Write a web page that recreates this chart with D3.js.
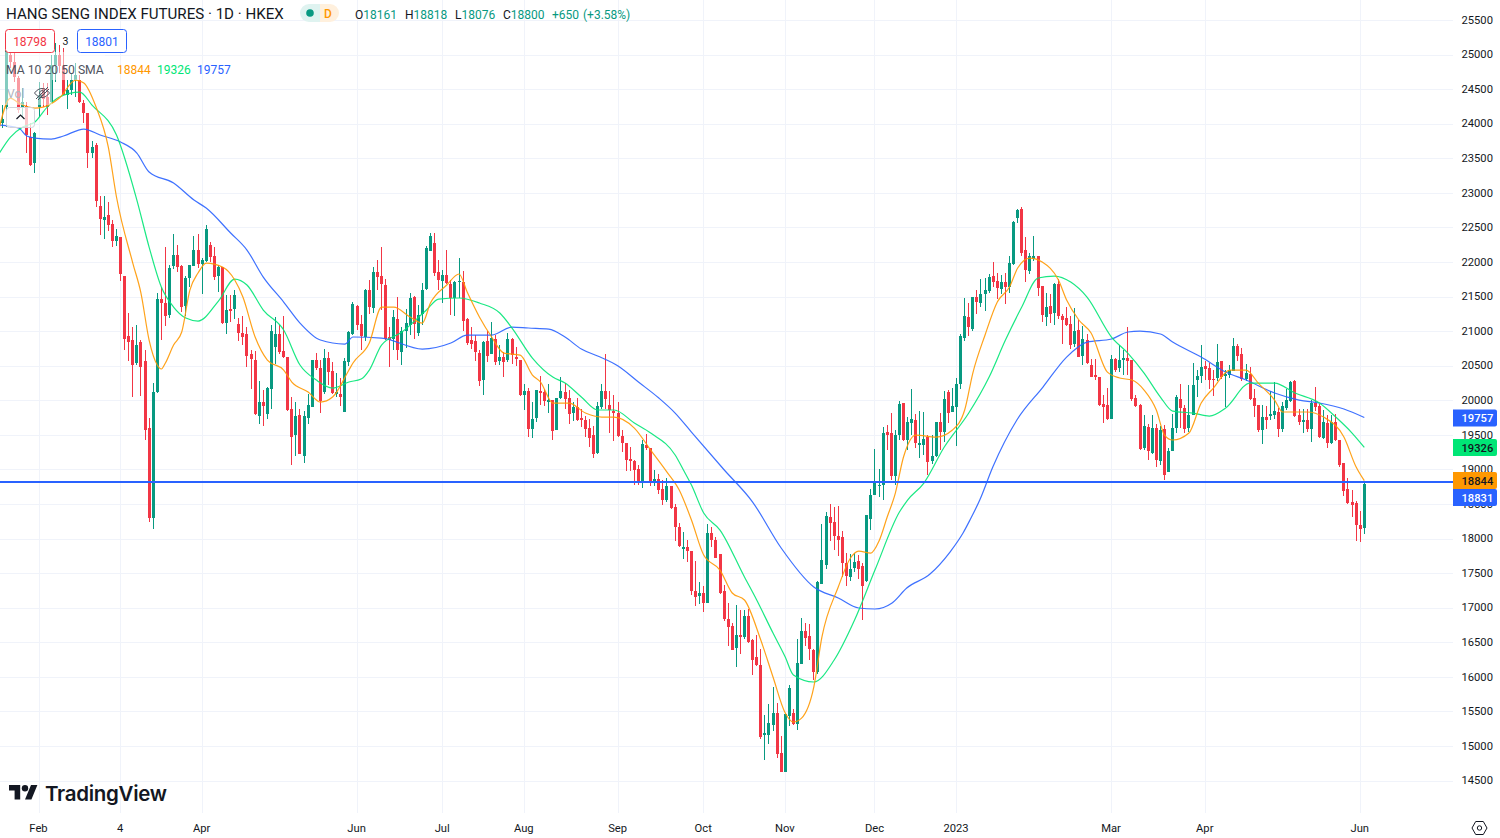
<!DOCTYPE html>
<html>
<head>
<meta charset="utf-8">
<script src="https://cdn.jsdelivr.net/npm/d3@7"></script>
<style>
  html, body { margin: 0; padding: 0; background: #fff; }
  svg { display: block; font-family: Roboto, sans-serif; }
</style>
</head>
<body>
<svg id="chart" width="1500" height="838"></svg>
<script>
// DATA, one row = 10 bars
const opens = [
  24017,24248,25000,24899,24668,24248,24263,23814,23438,24248,
  24523,24393,24321,24856,25000,24841,24422,24494,24639,24639,
  24306,24162,23583,23699,22816,22614,22686,22556,22310,22368,
  21804,20936,20878,20546,20849,20575,19605,18304,20126,21471,
  21413,21240,21949,22108,21949,21370,21775,21949,22180,21978,
  22021,22252,22093,21804,21934,21124,21327,21327,21110,20980,
  20965,20676,20589,19779,19981,19808,20170,20777,20965,20719,
  20632,19880,19504,19793,19200,19750,19909,20589,20473,20126,
  20618,20430,20097,20097,19837,20560,20965,21370,21110,20922,
  21601,21341,21862,21804,21674,20922,20893,21182,20705,21008,
  21095,21500,20980,21254,21616,22166,22281,21862,21732,21818,
  21688,21486,21717,21717,21182,20878,20864,20690,20300,20864,
  20676,20893,20575,20632,20589,20893,20632,20589,20083,20141,
  19591,19750,20141,20126,19981,20010,19576,20039,20126,20039,
  19822,19909,19750,19721,19605,19504,19244,19909,20141,19938,
  19851,19822,19490,19388,19157,19128,19012,18839,19359,19316,
  18810,18868,18723,18564,18767,18463,18173,17855,17884,17826,
  17248,17175,17219,17074,18087,17985,17783,17248,16843,16741,
  16423,16611,16582,16886,16539,16293,16178,15165,15165,15310,
  15483,14904,14630,15440,15483,15324,16192,16669,16597,16394,
  16076,17349,17624,18318,18246,18043,18029,17653,17450,17580,
  17682,17609,17392,18289,18636,18767,18781,19548,19533,18911,
  19504,19967,19432,19678,19721,19359,19359,19475,19128,19200,
  19692,19548,20126,19837,19909,20242,20907,21211,21037,21500,
  21413,21544,21587,21804,21732,21616,21717,21645,21977,22643,
  22773,22180,21876,22050,22093,21659,21211,21370,21269,21688,
  21225,21196,21110,20820,21023,20647,20878,20517,20372,20343,
  19952,19938,19735,20603,20473,20589,20618,20589,20039,19938,
  19316,19620,19244,19605,19128,19591,18969,19273,19605,20025,
  19895,19605,19793,20300,20358,20502,20473,20314,20329,20575,
  20358,20372,20430,20792,20676,20314,20387,20039,19938,19576,
  19765,19779,19793,19837,19591,19895,19996,20285,19793,19692,
  19721,19591,19967,19924,19461,19678,19388,19692,19432,19099,
  18723,18535,18521,18202,18161
];
const highs = [
  24277,25102,25145,25044,24697,24523,24321,24017,23887,24610,
  24596,24596,25000,25174,25145,25102,24639,24740,24885,24711,
  24350,24162,23757,23728,22961,22961,22874,22614,22484,22368,
  21804,21269,21066,21095,20878,20734,19750,20256,21558,21645,
  22223,21963,22411,22252,21963,21804,21963,22382,22411,22064,
  22542,22296,22223,21963,21934,21529,21529,21601,21196,21225,
  21066,20734,20719,20285,20155,20198,21095,21211,21095,21225,
  20632,20054,19981,19880,19851,20097,20589,20690,20589,20748,
  20705,20560,20401,20329,20618,21008,21428,21384,21240,21616,
  21746,21934,22035,22223,21761,21066,21312,21500,21066,21327,
  21558,21515,21384,21703,22238,22426,22426,22035,21891,22180,
  21746,21732,22064,21876,21196,21066,20951,20734,20864,21008,
  21139,20951,20806,20705,20980,20907,20777,20589,20242,20184,
  19981,20155,20358,20170,20242,20010,20039,20343,20256,20155,
  19981,20039,19880,19779,19736,19634,19981,20242,20676,20141,
  20083,19981,19576,19388,19331,19143,19070,19432,19519,19316,
  18998,18940,18853,18882,18767,18506,18231,18101,17985,17826,
  17682,17378,17320,18217,18173,18029,17783,17334,17074,16785,
  17045,16973,16973,16987,16553,16611,16409,15454,15613,15859,
  15628,15151,15469,15889,15541,16553,16857,16785,16770,16409,
  17392,18217,18390,18506,18463,18477,18116,17797,17783,17797,
  17768,17653,18347,18723,19302,19012,19620,19649,19822,19576,
  19996,19967,19765,20170,19808,19851,19837,19504,19504,19692,
  19822,20141,20155,20184,20329,20965,21486,21413,21500,21601,
  21761,21775,21833,22006,21847,21818,21847,22093,22600,22773,
  22802,22368,22137,22382,22093,21659,21558,21544,21703,21761,
  21254,21356,21225,21341,21168,21081,20965,20603,20603,20343,
  20083,20184,20661,20618,20806,20734,21066,20589,20083,19952,
  19793,19663,19793,19663,19634,19649,19316,19808,20083,20242,
  19938,20227,20545,20444,20806,20575,20546,20444,20820,20575,
  20444,20517,20907,20820,20763,20531,20488,20170,19938,19938,
  19924,20141,20271,19895,19981,20170,20285,20300,19880,19880,
  19880,20010,20198,19952,19866,19793,19793,19808,19432,19099,
  18882,18709,18550,18405,18818
];
const lows = [
  23945,23959,24812,24610,24162,24104,23583,23395,23294,24104,
  24248,24133,24306,24610,24740,24422,24219,24422,24393,24306,
  24017,23366,23511,22802,22397,22339,22455,22223,22238,21732,
  20734,20575,20054,20517,20068,19432,18246,18145,20112,20878,
  21081,21196,21905,21862,21283,21225,21645,21949,21920,21544,
  22006,22006,21746,21573,21110,20965,21139,21182,20864,20806,
  20488,20170,19793,19663,19634,19735,19880,20531,20676,20618,
  19851,19070,19200,19229,19099,19663,19909,20444,19822,20097,
  20227,20097,20054,19924,19837,20502,20951,21023,20734,20864,
  21254,21269,21601,21312,20878,20488,20734,20589,20517,20763,
  20951,20893,20936,21095,21601,22166,21804,21601,21413,21688,
  21240,21225,21486,21008,20806,20748,20575,20213,20083,20560,
  20676,20517,20517,20343,20560,20531,20502,20068,19866,19475,
  19461,19692,19938,19924,19822,19432,19576,20025,19880,19663,
  19707,19707,19620,19475,19331,19172,19229,19880,19880,19533,
  19417,19475,19258,18983,18983,18781,18781,18737,19287,18767,
  18767,18651,18492,18535,18434,17971,17884,17710,17667,17190,
  17031,17060,16944,17074,17884,17725,17205,16814,16452,16394,
  16149,16337,16553,16496,16033,16163,15107,14803,15035,15223,
  14832,14630,14630,15295,15310,15237,16192,16452,16250,15960,
  16047,17349,17566,17971,17841,17754,17450,17320,17392,17523,
  17421,16828,17378,18130,18636,18607,18564,19287,18853,18781,
  19432,19417,19287,19504,19316,19172,19215,18926,19085,19186,
  19287,19403,19678,19837,19345,20170,20864,20936,21008,21254,
  21356,21298,21558,21645,21471,21544,21399,21558,21963,22571,
  22093,21717,21833,22021,21515,21139,21081,21124,21095,21182,
  20820,21081,20748,20777,20632,20517,20531,20343,20300,19924,
  19678,19721,19735,20415,20415,20372,20372,19996,19909,19287,
  19287,19143,19229,19041,19070,18853,18969,19273,19533,19605,
  19533,19547,19793,20054,20256,20300,20170,20068,20285,20314,
  19909,20329,20430,20575,20285,20285,20010,19765,19548,19374,
  19591,19721,19735,19475,19548,19866,19981,19764,19649,19533,
  19548,19403,19851,19461,19446,19316,19374,19417,19041,18622,
  18506,18318,17971,17956,18076
];
const closes = [
  24075,25073,24899,24682,24205,24321,23843,23409,23872,24422,
  24364,24248,24856,25000,24841,24422,24494,24639,24711,24321,
  24162,23583,23670,22893,22628,22657,22542,22310,22382,21833,
  20893,20849,20517,20806,20488,19576,18304,20126,21471,21413,
  21225,21920,22108,21934,21355,21775,21963,22180,21978,22035,
  22484,22079,21790,21934,21124,21312,21298,21529,20980,20922,
  20647,20604,19808,19981,19924,20184,21008,20965,20705,20632,
  19866,19475,19779,19229,19779,19938,20589,20473,19996,20618,
  20415,20112,20126,20054,20575,20994,21399,21095,20936,21601,
  21355,21862,21790,21688,20893,20878,21211,20734,21008,21124,
  21486,21110,21240,21601,22209,22382,21847,21746,21818,21703,
  21486,21717,21732,21153,20835,20820,20705,20285,20849,20647,
  20907,20560,20632,20560,20893,20661,20604,20083,20141,19591,
  19736,20155,20112,19996,20010,19562,20039,20141,20025,19808,
  19909,19721,19721,19591,19461,19229,19924,20141,20025,19866,
  19822,19490,19388,19143,19128,18998,18839,19374,19316,18810,
  18868,18709,18564,18767,18448,18173,17899,17884,17826,17248,
  17161,17219,17074,18087,17985,17725,17219,16843,16727,16394,
  16611,16582,16886,16510,16250,16178,15136,15194,15339,15483,
  14890,14630,15469,15845,15324,16206,16669,16568,16409,16076,
  17378,17696,18333,18231,18043,17985,17653,17465,17566,17667,
  17566,17320,18347,18636,18810,18781,19533,19504,18911,19504,
  19952,19432,19692,19735,19388,19388,19446,19114,19200,19692,
  19548,20025,19822,19924,20242,20936,21225,21066,21500,21428,
  21544,21601,21789,21717,21630,21717,21645,21992,22585,22759,
  22137,21891,22093,22093,21630,21240,21356,21254,21688,21225,
  21168,21095,20806,21008,20632,20893,20546,20343,20343,19938,
  19909,19735,20604,20444,20589,20618,20575,20025,19924,19302,
  19634,19273,19605,19143,19576,18926,19273,19605,20054,19895,
  19591,19793,20227,20358,20488,20459,20300,20300,20560,20343,
  20387,20444,20792,20647,20314,20401,20025,19924,19576,19765,
  19721,19808,19851,19591,19924,20010,20271,19779,19692,19721,
  19591,19967,19909,19475,19692,19388,19692,19432,19070,18694,
  18521,18492,18202,18145,18800
];

// moving averages, read at the bends of each line: bar number + price
const ma10Bars = [-1,2,4,8,10,14,18,20,23,26,28,32,34,36,38,39,40,42,44,46,48,50,54,57,59,62,65,69,71,75,78,81,85,86,90,93,96,100,103,105,109,112,114,117,120,123,127,130,132,135,139,143,147,150,155,159,163,166,169,172,176,179,182,186,189,192,194,196,199,201,205,208,210,213,215,217,219,221,224,229,233,236,238,241,244,247,249,252,255,259,261,264,267,271,274,277,280,283,285,287,291,294,297,301,305,308,312,314,320,324,329,332,334];
const ma10Values = [23887,24378,24306,24234,24248,24378,24639,24596,24248,23670,22947,21992,21558,20878,20517,20459,20546,20806,20994,21601,21847,21992,21934,21746,21500,20922,20589,20444,20271,20126,19981,20054,20444,20546,20835,21355,21355,21211,21124,21413,21674,21833,21572,21211,20922,20690,20661,20372,20271,19967,19967,19822,19764,19764,19605,19287,18969,18709,18275,17768,17551,17219,17118,16539,16004,15483,15353,15410,15859,16583,17306,17725,17826,17797,17971,18318,18665,19186,19504,19475,19577,19866,20401,20951,21428,21645,21920,22064,22006,21746,21457,21168,20980,20415,20329,20300,20155,19866,19504,19432,19533,19967,20184,20444,20444,20256,20010,19837,19837,19764,19475,19041,18844];
const ma20Bars = [-1,2,5,8,11,14,19,22,28,33,36,39,42,45,48,53,57,60,64,69,73,77,81,85,88,90,93,98,104,107,112,117,122,125,130,135,138,142,146,150,155,159,165,167,169,172,176,182,185,189,192,194,199,204,209,214,220,222,226,231,237,242,246,250,254,258,262,266,272,276,280,284,287,292,296,300,306,312,317,323,327,331,334];
const ma20Values = [23554,23814,23959,24031,24248,24393,24465,24277,23843,22903,22223,21645,21355,21196,21153,21442,21760,21674,21312,21023,20517,20300,20184,20271,20314,20444,20806,20994,21312,21471,21486,21413,21269,21052,20618,20343,20256,20054,19866,19866,19678,19533,19215,19002,18781,18376,18130,17450,17118,16640,16293,16033,15932,16250,16828,17551,18390,18564,18810,19331,19822,20343,20878,21355,21775,21804,21717,21500,20922,20690,20401,20054,19851,19822,19779,19895,20256,20256,20112,19967,19764,19533,19326];
const ma50Bars = [-1,4,6,8,12,15,20,24,29,33,36,42,47,50,56,60,64,69,73,78,84,86,93,103,110,114,120,125,129,134,138,142,146,151,156,161,165,169,177,184,191,199,205,210,214,218.2,221.8,227.5,232.4,235.6,237.3,239.7,242.9,248.8,255.2,261,266,272,276,279,284,287,294,300,305,312,318,323,329,334];
const ma50Values = [23988,23945,23829,23800,23785,23829,23930,23843,23742,23583,23308,23149,22903,22787,22426,22180,21789,21428,21124,20878,20820,20922,20907,20748,20835,20950,20950,21066,21052,21037,20922,20748,20647,20502,20271,20039,19822,19547,19002,18535,17870,17306,17147,17002,16988,17074,17291,17494,17812,18087,18275,18564,19041,19721,20198,20632,20849,20893,20994,21008,20965,20849,20632,20415,20300,20112,20010,19967,19880,19757];

// axes
const priceTicks = d3.range(14500, 26000, 500);
const timeTickBars = [9,29,49,87,108,128,151,172,192,214,234,272,295,333];
const timeTickLabels = ["Feb","4","Apr","Jun","Jul","Aug","Sep","Oct","Nov","Dec","2023","Mar","Apr","Jun"];

// last value tags on the price axis
const lastLinePrice = 18831;
const tagLabels = ["19757","19326","18844","18831"];
const tagPrices = [19757,19326,18844,18831];

const C = {
  up: "#089981", down: "#F23645", grid: "#f0f3fa", text: "#131722",
  ma10: "#FF9800", ma20: "#00E676", ma50: "#2962FF", line: "#2962FF"
};
const tagFills = [C.ma50, C.ma20, C.ma10, C.line];
const tagInks = ["#fff", "#131722", "#131722", "#fff"];

const svg = d3.select("#chart");
const W = 1453;

const x = d3.scaleLinear().domain([0, 334]).range([2.3, 1364.3]);
const y = d3.scaleLinear().domain([14500, 25500]).range([781, 20.5]);

svg.append("defs").append("clipPath").attr("id", "pane")
  .append("rect").attr("width", W).attr("height", 813);

// GRID
const grid = svg.append("g").attr("shape-rendering", "crispEdges").attr("stroke", C.grid);
grid.selectAll(".h").data(priceTicks).join("line").attr("class", "h")
  .attr("x1", 0).attr("x2", W)
  .attr("y1", d => Math.floor(y(d)) + .5).attr("y2", d => Math.floor(y(d)) + .5);
grid.selectAll(".v").data(timeTickBars).join("line").attr("class", "v")
  .attr("x1", d => Math.floor(x(d)) + .5).attr("x2", d => Math.floor(x(d)) + .5)
  .attr("y1", 0).attr("y2", 813);

// CANDLES
const pane = svg.append("g").attr("clip-path", "url(#pane)");
const candle = pane.append("g").attr("shape-rendering", "crispEdges")
  .selectAll("g").data(d3.range(opens.length)).join("g")
  .attr("fill", i => closes[i] >= opens[i] ? C.up : C.down);
candle.append("rect")
  .attr("x", i => Math.floor(x(i))).attr("width", 1)
  .attr("y", i => y(highs[i])).attr("height", i => y(lows[i]) - y(highs[i]));
candle.append("rect")
  .attr("x", i => Math.floor(x(i)) - 1).attr("width", 3)
  .attr("y", i => y(Math.max(opens[i], closes[i])))
  .attr("height", i => Math.max(1, Math.abs(y(opens[i]) - y(closes[i]))));

// MA LINES
const maLine = d3.line().x(d => x(d[0])).y(d => y(d[1])).curve(d3.curveMonotoneX);
[[ma50Bars, ma50Values, C.ma50], [ma20Bars, ma20Values, C.ma20], [ma10Bars, ma10Values, C.ma10]].forEach(s => {
  pane.append("path").datum(d3.zip(s[0], s[1]))
    .attr("d", maLine).attr("fill", "none").attr("stroke", s[2])
    .attr("stroke-width", 1.2).attr("opacity", .9);
});

// horizontal price line
svg.append("rect").attr("x", 0).attr("width", W).attr("height", 2)
  .attr("y", Math.round(y(lastLinePrice)) - 1).attr("fill", C.line);

// AXES
const yAxis = d3.axisRight(y).tickValues(priceTicks).tickFormat(d3.format("d")).tickSize(0).tickPadding(8.5);
const yG = svg.append("g").attr("transform", `translate(${W},-0.8)`).call(yAxis);
yG.select(".domain").remove();
yG.selectAll("text").attr("font-family", "Roboto").attr("font-size", 11.2).attr("fill", C.text);

const xAxis = d3.axisBottom(x).tickValues(timeTickBars)
  .tickFormat(d => timeTickLabels[timeTickBars.indexOf(d)]).tickSize(0).tickPadding(0);
const xG = svg.append("g").attr("transform", "translate(-1,824)").call(xAxis);
xG.select(".domain").remove();
xG.selectAll("text").attr("font-family", "Roboto").attr("font-size", 11.2).attr("fill", C.text);

// value tags
const tag = svg.append("g").selectAll("g").data(tagPrices).join("g");
tag.append("path")
  .attr("d", (d, i) => {
    const top = [409.5, 439, 472, 489][i], h = 17;
    return `M1453 ${top}h42a2 2 0 0 1 2 2v${h - 4}a2 2 0 0 1 -2 2h-42z`;
  })
  .attr("fill", (d, i) => tagFills[i]);
tag.append("text")
  .attr("x", 1461.5).attr("y", (d, i) => [409.5, 439, 472, 489][i] + 12.5)
  .attr("font-size", 11.2).attr("font-weight", 500)
  .attr("fill", (d, i) => tagInks[i])
  .text((d, i) => tagLabels[i]);

// LEGEND
svg.append("rect").attr("x", 5).attr("y", 52).attr("width", 100).attr("height", 28).attr("fill", "#fff").attr("opacity", .5);
svg.append("rect").attr("x", 5).attr("y", 80).attr("width", 47).attr("height", 25).attr("fill", "#fff").attr("opacity", .5);

svg.append("text").attr("x", 6).attr("y", 19).attr("font-size", 15.1).attr("fill", C.text)
  .text("HANG SENG INDEX FUTURES \u00b7 1D \u00b7 HKEX");

// status pill
svg.append("path").attr("d", "M309 4h11v18h-11a9 9 0 0 1 0-18z").attr("fill", "#dff3f0");
svg.append("path").attr("d", "M320 4h10a9 9 0 0 1 0 18h-10z").attr("fill", "#fff0dd");
svg.append("circle").attr("cx", 310).attr("cy", 13).attr("r", 3.8).attr("fill", C.up);
svg.append("text").attr("x", 328).attr("y", 17.5).attr("text-anchor", "middle").attr("font-size", 12)
  .attr("font-weight", 500).attr("fill", "#FF9800").text("D");

const ohlcLabels = ["O", "H", "L", "C"];
const ohlcValues = ["18161", "18818", "18076", "18800"];
const ohlcX = [355, 405, 455, 503];
ohlcLabels.forEach((d, i) => {
  const t = svg.append("text").attr("x", ohlcX[i]).attr("y", 18.5).attr("font-size", 12).attr("fill", C.text);
  t.append("tspan").text(d);
  t.append("tspan").attr("fill", C.up).text(ohlcValues[i]);
});
svg.append("text").attr("x", 552).attr("y", 18.5).attr("font-size", 12).attr("fill", C.up).text("+650");
svg.append("text").attr("x", 583).attr("y", 18.5).attr("font-size", 12).attr("fill", C.up).text("(+3.58%)");

// sell / buy boxes
[[5.5, C.down, "18798"], [77.5, C.line, "18801"]].forEach(b => {
  svg.append("rect").attr("x", b[0]).attr("y", 29.5).attr("width", 49).attr("height", 23).attr("rx", 3)
    .attr("fill", "#fff").attr("stroke", b[1]);
  svg.append("text").attr("x", b[0] + 24.5).attr("y", 45.5).attr("text-anchor", "middle")
    .attr("font-size", 12).attr("fill", b[1]).text(b[2]);
});
svg.append("text").attr("x", 65.5).attr("y", 45).attr("text-anchor", "middle").attr("font-size", 10.5).attr("fill", C.text).text("3");

// indicator rows
svg.append("text").attr("x", 6).attr("y", 74).attr("font-size", 12.2).attr("fill", "#50535e").text("MA 10 20 50 SMA");
[[117, C.ma10, "18844"], [157, C.ma20, "19326"], [197, C.ma50, "19757"]].forEach(v => {
  svg.append("text").attr("x", v[0]).attr("y", 74).attr("font-size", 12).attr("fill", v[1]).text(v[2]);
});
svg.append("text").attr("x", 7).attr("y", 98).attr("font-size", 12.2).attr("fill", "#b2b5be").text("Vol");

// crossed eye
const eye = svg.append("g").attr("transform", "translate(42,93)").attr("fill", "none").attr("stroke", "#50535e").attr("stroke-width", 1);
eye.append("path").attr("d", "M-7.5 0C-3-6 3-6 7.5 0C3 6-3 6-7.5 0Z");
eye.append("circle").attr("r", 2.4);
eye.append("path").attr("d", "M-6 6L6-6M-4 7L7-4");

// collapse button
svg.append("rect").attr("x", 6.5).attr("y", 107.5).attr("width", 28).attr("height", 20).attr("rx", 3)
  .attr("fill", "#fff").attr("fill-opacity", .72).attr("stroke", "#d1d4dc");
svg.append("path").attr("d", "M16.5 119l4-4 4 4").attr("fill", "none").attr("stroke", C.text).attr("stroke-width", 1.2);

// LOGO
const logo = svg.append("g").attr("fill", C.text);
logo.append("path").attr("transform", "translate(9,781.8) scale(.8)")
  .attr("d", "M14 22H7V11H0V4h14v18zM28 22h-8l7.5-18h8L28 22z");
logo.append("circle").attr("cx", 25).attr("cy", 788.2).attr("r", 3.2);
svg.append("text").attr("x", 45).attr("y", 800.5).attr("font-family", "Inter").attr("font-size", 20.5)
  .attr("font-weight", 600).attr("letter-spacing", -.3).attr("fill", C.text).text("TradingView");

// settings gear
const gear = svg.append("g").attr("transform", "translate(1479.5,828)").attr("fill", "none").attr("stroke", "#131722").attr("stroke-width", 1);
gear.append("path").attr("d", "M-7.5 0L-3.8-6.5H3.8L7.5 0L3.8 6.5H-3.8Z");
gear.append("circle").attr("r", 2.2);
</script>
</body>
</html>
